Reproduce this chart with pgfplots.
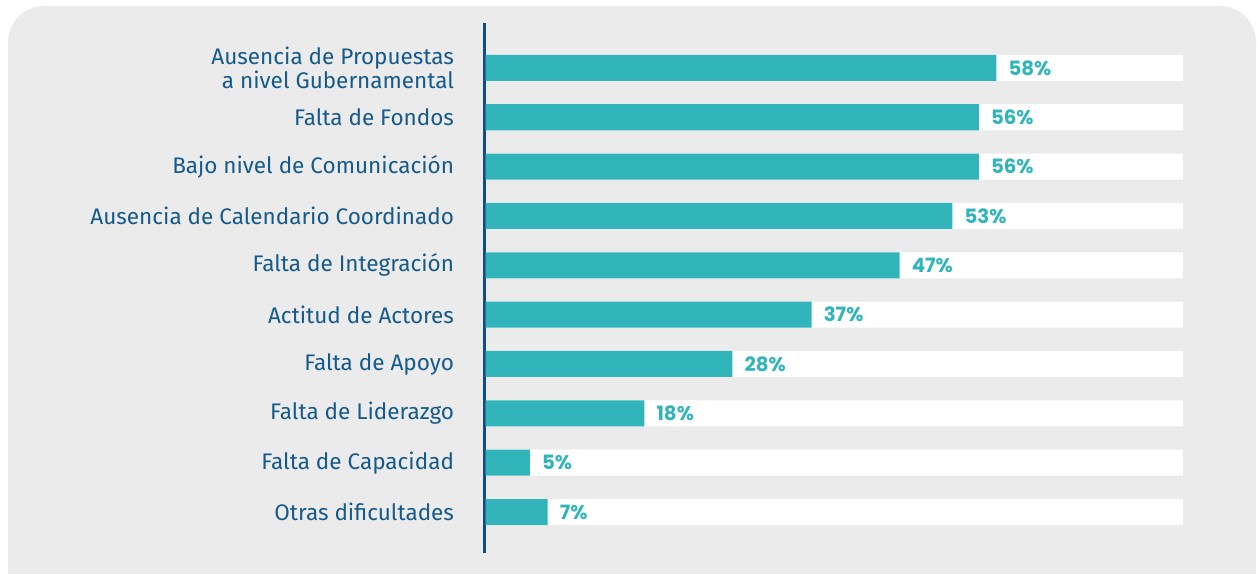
\documentclass[border=0pt]{standalone}
\usepackage{pgfplots}
\pgfplotsset{compat=1.18}
\usepackage{fontspec}
\setmainfont{Fira Sans}
\newfontfamily\valfont{Poppins}
\definecolor{barteal}{HTML}{31B5BA}
\definecolor{bggray}{HTML}{EBEBEB}
\definecolor{labelblue}{HTML}{155A8C}
\definecolor{axisblue}{HTML}{0E4F86}
\begin{document}
\begin{tikzpicture}[x=1bp,y=1bp]
\useasboundingbox (0,0) rectangle (1257,574);
\begin{scope}
\clip (0,0) rectangle (1257,574);
\fill[bggray, rounded corners=36bp] (8,-60) rectangle (1256,568);
\end{scope}
\begin{axis}[
  at={(484.2bp,21bp)}, anchor=south west, scale only axis,
  width=705.8bp, height=530bp,
  xbar, bar shift=0pt, bar width=26bp,
  xmin=-0.2, xmax=80, ymin=-0.91, ymax=9.83, y dir=reverse,
  axis x line=none, axis y line=left,
  y axis line style={-, draw=axisblue, line width=3bp},
  ytick={0,...,9},
  yticklabels={{Ausencia de Propuestas\\a nivel Gubernamental},Falta de Fondos,Bajo nivel de Comunicación,Ausencia de Calendario Coordinado,Falta de Integración,Actitud de Actores,Falta de Apoyo,Falta de Liderazgo,Falta de Capacidad,Otras dificultades},
  major tick length=0pt,
  yticklabel style={font=\fontsize{22.6}{24.5}\selectfont, text=labelblue, align=right, inner sep=0pt, xshift=-30bp},
  /pgf/number format/assume math mode=true,
]
\addplot[fill=white, draw=none] coordinates {(79.2,0) (79.2,1) (79.2,2) (79.2,3) (79.2,4) (79.2,5) (79.2,6) (79.2,7) (79.2,8) (79.2,9)};
\addplot[fill=barteal, draw=none,
  nodes near coords={\pgfmathprintnumber{\pgfplotspointmeta}\%},
  nodes near coords style={font=\valfont\bfseries\fontsize{19.8}{22}\selectfont, text=barteal, anchor=west, inner sep=0pt, xshift=12bp}]
  coordinates {(58,0) (56,1) (56,2) (53,3) (47,4) (37,5) (28,6) (18,7) (5,8) (7,9)};
\end{axis}
\end{tikzpicture}
\end{document}
